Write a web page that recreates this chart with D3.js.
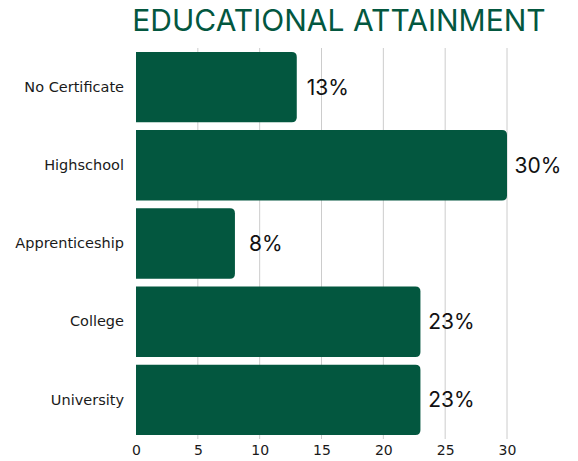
<!DOCTYPE html>
<html>
<head>
<meta charset="utf-8">
<script src="https://cdn.jsdelivr.net/npm/d3@7"></script>
<style>
  html, body { margin: 0; padding: 0; background: #ffffff; }
  svg { display: block; }
</style>
</head>
<body>
<svg id="chart" width="578" height="461"></svg>
<script>
// Educational attainment shares (percent)
const categories = ["No Certificate", "Highschool", "Apprenticeship", "College", "University"];
const values = [13, 30, 8, 23, 23];
const tickValues = [0, 5, 10, 15, 20, 25, 30];
const title = "EDUCATIONAL ATTAINMENT";

const W = 578, H = 461;
const margin = { top: 48, right: 71, bottom: 22, left: 136 };
const green = "#03573f";

const svg = d3.select("#chart");

const x = d3.scaleLinear()
  .domain([0, 30])
  .range([margin.left, W - margin.right]);

const y = d3.scaleBand()
  .domain(categories)
  .range([margin.top, H - margin.bottom])
  .paddingInner(0.1)
  .paddingOuter(0.05);

// Title
svg.append("text")
  .attr("x", 339)
  .attr("y", 31)
  .attr("text-anchor", "middle")
  .attr("font-family", "Inter, 'Open Sans', sans-serif")
  .attr("font-size", 30)
  .attr("fill", green)
  .text(title);

// Vertical gridlines
svg.append("g")
  .selectAll("line")
  .data(tickValues.slice(1))
  .join("line")
  .attr("x1", d => x(d)).attr("x2", d => x(d))
  .attr("y1", margin.top).attr("y2", H - margin.bottom)
  .attr("stroke", "#cccccc")
  .attr("stroke-width", 1);

// Bars with rounded right ends
const r = 5;
function barPath(x0, x1, y0, h) {
  const rr = Math.min(r, (x1 - x0) / 2);
  return `M${x0},${y0}H${x1 - rr}Q${x1},${y0} ${x1},${y0 + rr}` +
         `V${y0 + h - rr}Q${x1},${y0 + h} ${x1 - rr},${y0 + h}H${x0}Z`;
}

const rows = categories.map((c, i) => ({ c, v: values[i] }));

svg.append("g")
  .selectAll("path")
  .data(rows)
  .join("path")
  .attr("d", d => barPath(x(0), x(d.v), y(d.c), y.bandwidth()))
  .attr("fill", green);

// Value labels
svg.append("g")
  .selectAll("text")
  .data(rows)
  .join("text")
  .attr("x", d => x(d.v) + 31)
  .attr("y", d => y(d.c) + y.bandwidth() / 2)
  .attr("dy", "0.36em")
  .attr("text-anchor", "middle")
  .attr("font-family", "Inter, 'Open Sans', sans-serif")
  .attr("font-size", 21)
  .attr("fill", "#111111")
  .text(d => d.v + "%");

// Category axis
const yAxis = svg.append("g")
  .attr("transform", `translate(${margin.left},0)`)
  .call(d3.axisLeft(y).tickSize(0).tickPadding(12));
yAxis.select(".domain").remove();
yAxis.selectAll("text")
  .attr("font-family", "'DejaVu Sans', Verdana, sans-serif")
  .attr("font-size", 14.5)
  .attr("fill", "#1a1a1a");

// Value axis
const xAxis = svg.append("g")
  .attr("transform", `translate(0,${H - margin.bottom})`)
  .call(d3.axisBottom(x).tickValues(tickValues).tickSize(0).tickPadding(6));
xAxis.select(".domain").remove();
xAxis.selectAll("text")
  .attr("font-family", "'DejaVu Sans', Verdana, sans-serif")
  .attr("font-size", 14)
  .attr("fill", "#1a1a1a");
</script>
</body>
</html>
